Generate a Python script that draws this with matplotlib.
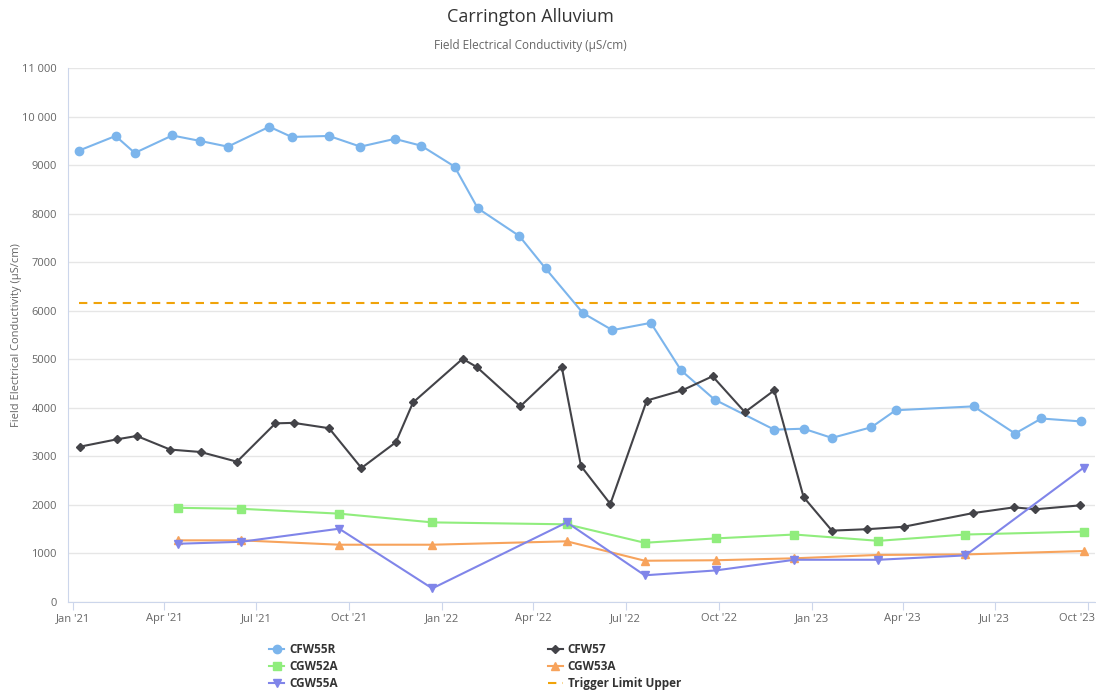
import pandas as pd
import matplotlib
matplotlib.use('Agg')
import matplotlib.pyplot as plt
import matplotlib.dates as mdates
import matplotlib.transforms as mtransforms
from matplotlib.ticker import FuncFormatter

plt.rcParams['font.family'] = ['Open Sans', 'DejaVu Sans']

# Data
cfw55r_dates = ['2021-01-07', '2021-02-12', '2021-03-03', '2021-04-09', '2021-05-06', '2021-06-03',
                '2021-07-14', '2021-08-05', '2021-09-11', '2021-10-12', '2021-11-15', '2021-12-11',
                '2022-01-13', '2022-02-05', '2022-03-18', '2022-04-13', '2022-05-20', '2022-06-18',
                '2022-07-26', '2022-08-25', '2022-09-27', '2022-11-25', '2022-12-24', '2023-01-21',
                '2023-03-01', '2023-03-25', '2023-06-10', '2023-07-21', '2023-08-16', '2023-09-24']
cfw55r_vals = [9300, 9600, 9250, 9610, 9500, 9380, 9790, 9580, 9600, 9380, 9540, 9400,
               8970, 8110, 7540, 6870, 5950, 5600, 5750, 4770, 4170, 3550, 3570, 3380,
               3600, 3950, 4030, 3470, 3780, 3720]

cfw57_dates = ['2021-01-08', '2021-02-13', '2021-03-05', '2021-04-07', '2021-05-07', '2021-06-12',
               '2021-07-20', '2021-08-07', '2021-09-11', '2021-10-13', '2021-11-16', '2021-12-03',
               '2022-01-21', '2022-02-04', '2022-03-19', '2022-04-29', '2022-05-18', '2022-06-16',
               '2022-07-22', '2022-08-26', '2022-09-25', '2022-10-27', '2022-11-25', '2022-12-24',
               '2023-01-21', '2023-02-25', '2023-04-02', '2023-06-09', '2023-07-20', '2023-08-10',
               '2023-09-23']
cfw57_vals = [3200, 3350, 3420, 3140, 3090, 2890, 3680, 3690, 3580, 2760, 3290, 4110,
              5010, 4840, 4030, 4840, 2800, 2020, 4150, 4360, 4650, 3910, 4360, 2160,
              1470, 1500, 1550, 1830, 1950, 1910, 1990]

cgw_dates = ['2021-04-15', '2021-06-16', '2021-09-21', '2021-12-22', '2022-05-04', '2022-07-20',
             '2022-09-28', '2022-12-15', '2023-03-08', '2023-06-02', '2023-09-27']
cgw52a_vals = [1940, 1920, 1820, 1640, 1600, 1220, 1310, 1390, 1260, 1390, 1450]
cgw53a_vals = [1270, 1270, 1180, 1180, 1250, 850, 860, 900, 970, 980, 1050]
cgw55a_vals = [1200, 1240, 1510, 280, 1640, 550, 650, 870, 870, 960, 2770]

trigger_dates = ['2021-01-07', '2023-09-27']
trigger_vals = [6150, 6150]

fig = plt.figure(figsize=(10.96, 6.92), dpi=100)
ax = fig.add_axes([68 / 1096, 1 - 602 / 692, 1027 / 1096, 534 / 692])

lw = 1.5
ax.plot(pd.to_datetime(cfw55r_dates), cfw55r_vals, color='#7cb5ec', marker='o', ms=6, lw=lw, label='CFW55R', zorder=3)
ax.plot(pd.to_datetime(cfw57_dates), cfw57_vals, color='#434348', marker='D', ms=4.5, lw=lw, label='CFW57', zorder=3)
ax.plot(pd.to_datetime(cgw_dates), cgw52a_vals, color='#90ed7d', marker='s', ms=6, lw=lw, label='CGW52A', zorder=3)
ax.plot(pd.to_datetime(cgw_dates), cgw53a_vals, color='#f7a35c', marker='^', ms=6, lw=lw, label='CGW53A', zorder=3)
ax.plot(pd.to_datetime(cgw_dates), cgw55a_vals, color='#8085e9', marker='v', ms=6, lw=lw, label='CGW55A', zorder=3)
ax.plot(pd.to_datetime(trigger_dates), trigger_vals, color='#f0a30a', lw=lw, ls=(0, (4, 3)), label='Trigger Limit Upper', zorder=2)

ax.set_ylim(0, 11000)
ax.set_yticks(range(0, 11001, 1000))
ax.yaxis.set_major_formatter(FuncFormatter(lambda v, p: f"{int(v):,}".replace(',', ' ') if v >= 10000 else f"{int(v)}"))
ax.set_xlim(pd.Timestamp('2020-12-27'), pd.Timestamp('2023-10-08'))
ax.xaxis.set_major_locator(mdates.MonthLocator(bymonth=[1, 4, 7, 10]))
ax.xaxis.set_major_formatter(mdates.DateFormatter("%b '%y"))

ax.grid(axis='y', color='#e6e6e6', lw=1)
ax.set_axisbelow(True)
for side in ['top', 'right']:
    ax.spines[side].set_visible(False)
ax.spines['left'].set_color('#ccd6eb')
ax.spines['bottom'].set_color('#ccd6eb')
ax.tick_params(axis='y', length=0, labelsize=8, labelcolor='#666666', pad=8)
ax.tick_params(axis='x', length=6, color='#ccd6eb', labelsize=8, labelcolor='#666666', pad=2)

ax.set_ylabel('Field Electrical Conductivity (µS/cm)', fontsize=8, color='#666666', labelpad=0)

# keep the last x label inside the figure, like Highcharts does
fig.canvas.draw()
last = ax.get_xticklabels()[-1]
last.set_horizontalalignment('right')
last.set_transform(last.get_transform() + mtransforms.ScaledTranslation(7 / 100, 0, fig.dpi_scale_trans))

fig.text(530 / 1096, 1 - 17 / 692, 'Carrington Alluvium', ha='center', va='center', fontsize=13, color='#333333')
fig.text(530 / 1096, 1 - 45 / 692, 'Field Electrical Conductivity (µS/cm)', ha='center', va='center', fontsize=8.5, color='#666666')

# Legend in Highcharts row order (matplotlib fills by column)
handles, labels = ax.get_legend_handles_labels()
order = [0, 2, 4, 1, 3, 5]
leg = fig.legend([handles[i] for i in order], [labels[i] for i in order], ncol=2,
                 loc='upper left', bbox_to_anchor=(263 / 1096, 1 - 637 / 692), frameon=False,
                 fontsize=8.5, handlelength=1.3, handletextpad=0.4, columnspacing=17.8,
                 labelspacing=0.35, borderpad=0)
for t in leg.get_texts():
    t.set_color('#333333')
    t.set_fontweight('bold')

plt.savefig('out.png', dpi=100)
